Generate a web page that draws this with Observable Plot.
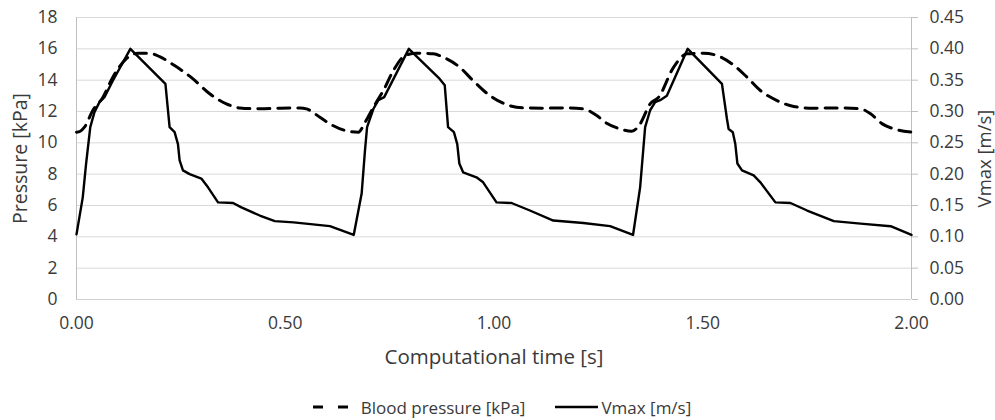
<!DOCTYPE html>
<html>
<head>
<meta charset="utf-8">
<script src="https://cdn.jsdelivr.net/npm/d3@7"></script>
<script src="https://cdn.jsdelivr.net/npm/@observablehq/plot@0.6"></script>
<style>
  html, body { margin: 0; padding: 0; background: #fff; }
  body { width: 995px; height: 420px; overflow: hidden; font-family: "Open Sans", sans-serif; color: #3a3a3a; }
  #legend { height: 54px; display: flex; align-items: center; justify-content: center; font-size: 17px; padding-left: 9px; box-sizing: border-box; }
  #legend .item { display: flex; align-items: center; }
  #legend svg { display: block; }
</style>
</head>
<body>
<div id="chart"></div>
<div id="legend"></div>
<script>
// Blood pressure [kPa] vs time [s]
const pressureTime = [0, 0.009, 0.019, 0.039, 0.063, 0.087, 0.119, 0.147, 0.175, 0.199, 0.235, 0.279, 0.319, 0.359, 0.391, 0.439, 0.487, 0.535, 0.551, 0.583, 0.607, 0.643, 0.675,
  0.691, 0.711, 0.735, 0.759, 0.787, 0.815, 0.854, 0.882, 0.918, 0.950, 0.990, 1.030, 1.070, 1.118, 1.166, 1.214, 1.246, 1.270, 1.302, 1.330,
  1.350, 1.374, 1.394, 1.430, 1.462, 1.502, 1.534, 1.570, 1.606, 1.638, 1.678, 1.718, 1.766, 1.822, 1.878, 1.902, 1.930, 1.958, 2.000];
const pressureValues = [10.68, 10.74, 11.0, 12.06, 12.9, 14.19, 15.36, 15.72, 15.72, 15.5, 14.93, 14.08, 13.13, 12.49, 12.23, 12.17, 12.21, 12.23, 12.17, 11.63, 11.21, 10.79, 10.68,
  11.3, 12.27, 13.34, 14.61, 15.57, 15.72, 15.68, 15.42, 14.82, 13.97, 13.02, 12.44, 12.23, 12.21, 12.23, 12.17, 11.74, 11.25, 10.89, 10.74,
  11.21, 12.49, 12.9, 14.82, 15.68, 15.72, 15.57, 15.04, 14.19, 13.34, 12.7, 12.32, 12.21, 12.23, 12.17, 11.85, 11.21, 10.89, 10.68];

// Vmax [m/s] vs time [s]
const vmaxTime = [0, 0.015, 0.023, 0.033, 0.043, 0.055, 0.067, 0.087, 0.129, 0.213, 0.223, 0.235, 0.243, 0.247, 0.255, 0.271, 0.299, 0.315, 0.339, 0.375, 0.395, 0.439, 0.475, 0.520, 0.607, 0.664,
  0.683, 0.691, 0.696, 0.711, 0.723, 0.737, 0.796, 0.870, 0.882, 0.890, 0.904, 0.912, 0.917, 0.926, 0.958, 0.974, 1.006, 1.042, 1.086, 1.142, 1.214, 1.278, 1.333,
  1.350, 1.362, 1.374, 1.386, 1.398, 1.414, 1.464, 1.546, 1.558, 1.562, 1.572, 1.578, 1.583, 1.594, 1.622, 1.638, 1.674, 1.710, 1.750, 1.814, 1.878, 1.950, 2.000];
const vmaxValues = [0.104, 0.163, 0.217, 0.275, 0.299, 0.315, 0.323, 0.349, 0.400, 0.344, 0.275, 0.267, 0.248, 0.222, 0.206, 0.200, 0.193, 0.179, 0.155, 0.154, 0.147, 0.134, 0.125, 0.123, 0.117, 0.103,
  0.169, 0.238, 0.275, 0.304, 0.318, 0.323, 0.400, 0.352, 0.342, 0.275, 0.267, 0.248, 0.217, 0.203, 0.195, 0.187, 0.155, 0.154, 0.142, 0.126, 0.122, 0.117, 0.103,
  0.179, 0.275, 0.302, 0.315, 0.318, 0.325, 0.400, 0.344, 0.288, 0.272, 0.267, 0.248, 0.217, 0.206, 0.198, 0.187, 0.155, 0.154, 0.142, 0.125, 0.121, 0.117, 0.103];

const pressureTicks = [0, 2, 4, 6, 8, 10, 12, 14, 16, 18];
const vmaxTicks = [0, 0.05, 0.10, 0.15, 0.20, 0.25, 0.30, 0.35, 0.40, 0.45];
const timeTicks = [0, 0.5, 1.0, 1.5, 2.0];
const leftTitle = ["Pressure [kPa]"];
const rightTitle = ["Vmax [m/s]"];
const bottomTitle = ["Computational time [s]"];
const seriesNames = ["Blood pressure [kPa]", "Vmax [m/s]"];

const vScale = 18 / 0.45; // right axis (0–0.45) mapped onto left axis (0–18)

const pressureRows = pressureTime.map((t, i) => ({t, p: pressureValues[i]}));
const vmaxRows = vmaxTime.map((t, i) => ({t, v: vmaxValues[i]}));

const ink = "#3a3a3a";
const chart = Plot.plot({
  width: 995,
  height: 380,
  marginLeft: 76,
  marginRight: 84,
  marginTop: 17,
  marginBottom: 81,
  style: {fontFamily: "Open Sans, sans-serif", fontSize: "17px", color: ink, background: "#fff"},
  x: {domain: [0, 2]},
  y: {domain: [0, 18]},
  marks: [
    Plot.gridY({ticks: pressureTicks, stroke: "#d9d9d9", strokeOpacity: 1, strokeWidth: 1}),
    Plot.ruleX([0, 2], {stroke: "#bfbfbf", strokeWidth: 1}),
    Plot.ruleY([0], {stroke: "#d0d0d0", strokeWidth: 1}),
    Plot.axisY({anchor: "left", ticks: pressureTicks, tickSize: 0, tickPadding: 19, label: null, fontSize: 17.5}),
    Plot.axisY({anchor: "right", ticks: vmaxTicks.map(v => v * vScale), tickSize: 6, tickPadding: 12, stroke: "#bfbfbf",
      tickFormat: d => (d / vScale).toFixed(2), label: null, fontSize: 17.5}),
    Plot.axisX({anchor: "bottom", ticks: timeTicks, tickSize: 0, tickPadding: 17, tickFormat: d => d.toFixed(2), label: null, fontSize: 17.5}),
    Plot.text(leftTitle, {frameAnchor: "left", textAnchor: "middle", lineAnchor: "middle", dx: -56, rotate: -90, fontSize: 19.5, fill: ink}),
    Plot.text(rightTitle, {frameAnchor: "right", textAnchor: "middle", lineAnchor: "middle", dx: 74, rotate: -90, fontSize: 18.5, fill: ink}),
    Plot.text(bottomTitle, {frameAnchor: "bottom", textAnchor: "middle", lineAnchor: "middle", dy: 58, fontSize: 20.5, fill: ink}),
    Plot.line(pressureRows, {x: "t", y: "p", stroke: "#000", strokeWidth: 3, strokeDasharray: "12,8", curve: "monotone-x"}),
    Plot.line(vmaxRows, {x: "t", y: d => d.v * vScale, stroke: "#000", strokeWidth: 2.4, strokeLinejoin: "round"})
  ]
});
document.getElementById("chart").appendChild(chart);

// Legend below the chart
const legend = d3.select("#legend");
const it1 = legend.append("div").attr("class", "item");
const s1 = it1.append("svg").attr("width", 35).attr("height", 10);
s1.append("line").attr("x1", 0).attr("x2", 35).attr("y1", 5).attr("y2", 5)
  .attr("stroke", "#000").attr("stroke-width", 3).attr("stroke-dasharray", "10,15");
it1.append("span").style("margin-left", "13px").text(seriesNames[0]);
const it2 = legend.append("div").attr("class", "item").style("margin-left", "30px");
const s2 = it2.append("svg").attr("width", 43).attr("height", 10);
s2.append("line").attr("x1", 0).attr("x2", 43).attr("y1", 5).attr("y2", 5)
  .attr("stroke", "#000").attr("stroke-width", 2.4);
it2.append("span").style("margin-left", "3px").text(seriesNames[1]);
</script>
</body>
</html>
